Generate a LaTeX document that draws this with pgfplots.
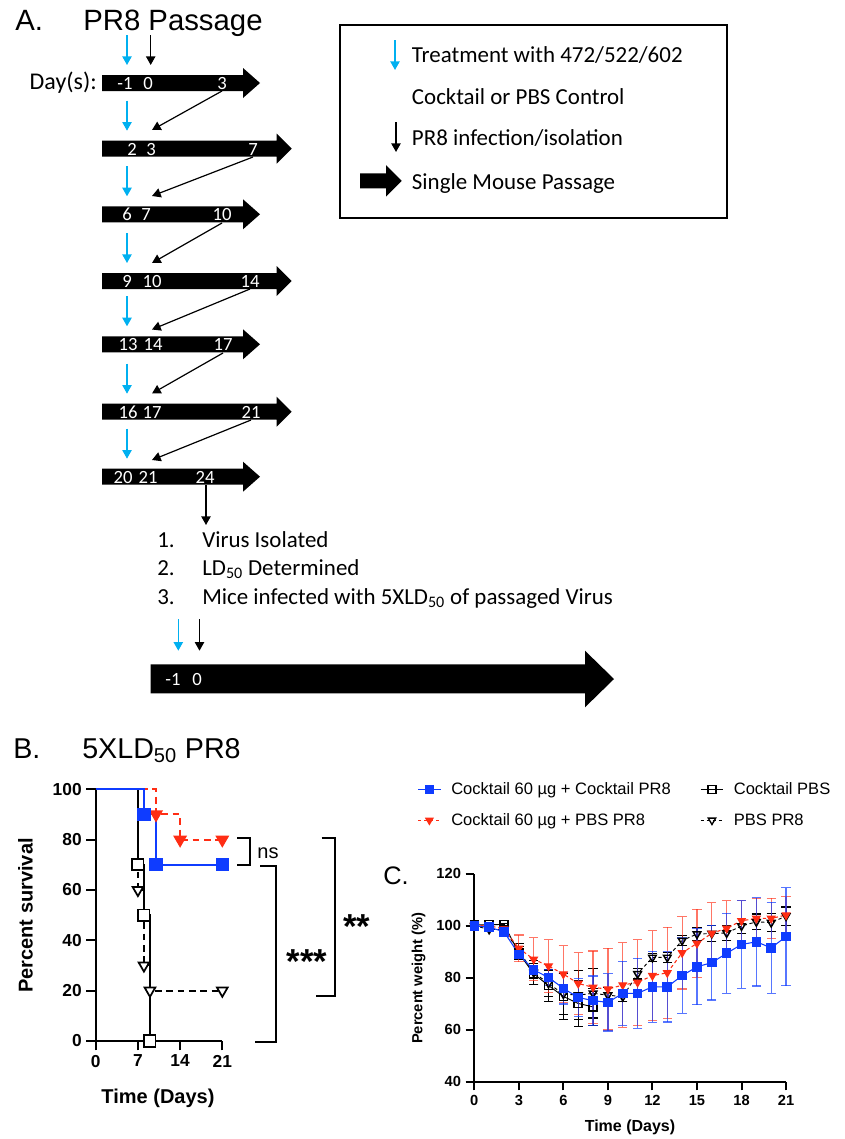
\documentclass[border=0pt]{standalone}
\usepackage{pgfplots}
\pgfplotsset{compat=1.18}
\usepackage{pgfplotstable}
\usepackage{fontspec}
\setmainfont{Liberation Sans}
\newfontfamily\calfont{Carlito}
\usetikzlibrary{arrows.meta}
\definecolor{gpblue}{RGB}{15,60,255}
\definecolor{gpred}{RGB}{255,45,20}
\definecolor{office}{RGB}{0,176,240}
\newcommand{\fs}[1]{\fontsize{#1}{#1}\selectfont}

\pgfplotstableread{
x y e
0 100 0
1 99.4 0.8
2 97.7 1.2
3 89.0 1.5
4 83.0 1.8
5 80.1 3.0
6 75.9 6.0
7 72.4 7.4
8 71.2 9.5
9 70.5 11.0
10 74.0 12.3
11 74.0 13.5
12 76.5 13.7
13 76.5 13.5
14 80.8 14.5
15 84.2 14.6
16 85.8 14.4
17 89.4 15.4
18 92.8 16.8
19 93.8 17.0
20 91.5 17.5
21 95.8 18.9
}\tblue

\pgfplotstableread{
x y e
0 100 0
1 100 0.5
2 98.7 1.0
3 91.3 5.1
4 87.1 8.3
5 84.5 10.2
6 81.4 10.9
7 77.8 11.8
8 76.3 14.0
9 75.6 15.7
10 77.2 16.3
11 78.2 16.5
12 80.8 17.3
13 81.9 17.5
14 89.6 13.9
15 93.2 13.1
16 97.1 11.7
17 99.0 10.6
18 101.9 7.8
19 102.8 7.7
20 102.8 7.7
21 104.1 7.1
}\tred

\pgfplotstableread{
x y e
0 100.3 0
1 100.4 0.5
2 100.5 0.5
3 89.5 2.5
4 81.5 4.0
5 77.0 6.0
6 72.8 9.0
7 70.1 9.0
8 68.8 7.0
}\tsq

\pgfplotstableread{
x y e
0 100 0
1 98.6 1.0
2 98.5 1.0
3 90.3 3.0
4 82.0 4.5
5 77.8 5.0
6 73.7 8.0
7 73.3 9.5
8 74.0 9.5
9 73.3 3.0
10 72.7 2.0
11 81.5 2.0
12 87.8 1.5
13 87.8 2.0
14 94.3 2.0
15 96.8 2.5
16 97.0 3.0
17 97.2 3.0
18 99.9 3.0
19 101.5 3.0
20 101.2 3.5
21 103.7 3.5
}\ttri

\begin{document}
\begin{tikzpicture}[x=0.75pt,y=-0.75pt,
  tip/.style={-{Triangle[length=6.5pt,width=7pt]}}]
\path[use as bounding box] (0,0) rectangle (844,1139);

% ---------------- Panel A -----------------
\node[anchor=base west, inner sep=0] at (15,30) {\fs{22}A.};
\node[anchor=base west, inner sep=0] at (83,30) {\fs{22}PR8 Passage};
\node[anchor=base east, inner sep=0] at (97,89.5) {\calfont\fs{18}Day(s):};

\foreach \yc/\xb/\xt in {83/243/260, 148.7/276.7/291.7, 214.3/243/260, 281/276.7/291.7, 344.3/243/260, 411.7/276.7/291.7, 476.7/243/260}{
  \fill (102,\yc-8) -- (\xb,\yc-8) -- (\xb,\yc-15) -- (\xt,\yc) -- (\xb,\yc+15) -- (\xb,\yc+8) -- (102,\yc+8) -- cycle;
  \draw[office, line width=1.1pt, tip] (127,\yc-48) -- (127,\yc-18);
}
\foreach \yc/\t/\xx in {83/-1/125, 83/0/148, 83/3/222,
  148.7/2/132, 148.7/3/151, 148.7/7/253,
  214.3/6/127, 214.3/7/146, 214.3/10/222,
  281/9/127, 281/10/152, 281/14/250,
  344.3/13/128, 344.3/14/153, 344.3/17/223,
  411.7/16/128, 411.7/17/152, 411.7/21/251,
  476.7/20/123, 476.7/21/148, 476.7/24/205}{
  \node[text=white, anchor=base, inner sep=0] at (\xx,\yc+6.5) {\calfont\fs{14}\t};
}
\draw[line width=1.1pt, tip] (150.7,35) -- (150.7,65);
\draw[line width=0.9pt, tip] (222,91) -- (152,130);
\draw[line width=0.9pt, tip] (253,157) -- (152,196);
\draw[line width=0.9pt, tip] (222,223) -- (152,263);
\draw[line width=0.9pt, tip] (250,289) -- (152,329.5);
\draw[line width=0.9pt, tip] (223,353) -- (152,393.5);
\draw[line width=0.9pt, tip] (251,420) -- (152,460);
\draw[line width=1.1pt, tip] (206,485) -- (206,525);

% key box
\draw[line width=0.9pt] (340,25) rectangle (727,218);
\draw[office, line width=1.1pt, tip] (395,40) -- (395,70);
\draw[line width=1.1pt, tip] (396,122) -- (396,152);
\fill (360,173.3) -- (386,173.3) -- (386,165) -- (401.7,180.8) -- (386,196.6) -- (386,188.3) -- (360,188.3) -- cycle;
\node[anchor=base west, inner sep=0] at (411.7,62.5) {\calfont\fs{17.2}Treatment with 472/522/602};
\node[anchor=base west, inner sep=0] at (411.7,104.8) {\calfont\fs{17.2}Cocktail or PBS Control};
\node[anchor=base west, inner sep=0] at (411.7,145.8) {\calfont\fs{17.2}PR8 infection/isolation};
\node[anchor=base west, inner sep=0] at (411.7,189.2) {\calfont\fs{17.2}Single Mouse Passage};

% list
\node[anchor=base west, inner sep=0] at (157,547.5) {\calfont\fs{17.2}1.};
\node[anchor=base west, inner sep=0] at (202,547.5) {\calfont\fs{17.2}Virus Isolated};
\node[anchor=base west, inner sep=0] at (157,575.5) {\calfont\fs{17.2}2.};
\node[anchor=base west, inner sep=0] at (202,575.5) {\calfont\fs{17.2}LD\textsubscript{50} Determined};
\node[anchor=base west, inner sep=0] at (157,604.2) {\calfont\fs{17.2}3.};
\node[anchor=base west, inner sep=0] at (202,604.2) {\calfont\fs{17.2}Mice infected with 5XLD\textsubscript{50} of passaged Virus};

% bottom arrow
\draw[office, line width=1.1pt, tip] (178.3,619.3) -- (178.3,650.7);
\draw[line width=1.1pt, tip] (199.5,619.3) -- (199.5,650.7);
\fill (150.7,664.3) -- (585,664.3) -- (585,650.7) -- (614,679) -- (585,707.3) -- (585,693.3) -- (150.7,693.3) -- cycle;
\node[text=white, anchor=base, inner sep=0] at (173,685.5) {\calfont\fs{14}-1};
\node[text=white, anchor=base, inner sep=0] at (197,685.5) {\calfont\fs{14}0};

% ---------------- Panel B -----------------
\node[anchor=base west, inner sep=0] at (13,758) {\fs{21.5}B.};
\node[anchor=base west, inner sep=0] at (82,758) {\fs{21.5}5XLD\textsubscript{50} PR8};

\begin{axis}[
  at={(71.78pt,-780.75pt)}, anchor=south west,
  scale only axis, width=94.95pt, height=188.8pt,
  xmin=0, xmax=21, ymin=0, ymax=100,
  axis lines=left,
  axis line style={line width=1.6pt, -},
  xtick={0,7,14,21}, ytick={0,20,40,60,80,100},
  tick align=outside, major tick length=7pt,
  every tick/.style={black, line width=1.6pt},
  tick label style={font=\fs{13}\bfseries},
  /pgf/number format/assume math mode=true,
  clip=false,
]
\addplot[black, line width=1.5pt, const plot, mark=square*, mark size=4.2pt,
  mark indices={2,3,4}, mark options={solid, line width=1.4pt, fill=white, draw=black}]
  coordinates {(0,100)(7,70)(8,50)(9,0)};
\addplot[black, line width=1.5pt, dash pattern=on 5pt off 3.5pt, const plot, mark=triangle*, mark size=4.6pt,
  mark indices={2,3,4,5}, mark options={solid, rotate=180, line width=1.3pt, fill=white, draw=black}]
  coordinates {(0,100)(7,60)(8,30)(9,20)(21,20)};
\addplot[gpred, line width=1.5pt, dash pattern=on 5pt off 3.5pt, const plot, mark=triangle*, mark size=4.6pt,
  mark indices={2,3,4}, mark options={solid, rotate=180, fill=gpred}]
  coordinates {(0,100)(10,90)(14,80)(21,80)};
\addplot[gpblue, line width=1.5pt, const plot, mark=square*, mark size=4.2pt,
  mark indices={2,3,4}, mark options={solid, fill=gpblue}]
  coordinates {(0,100)(8,90)(10,70)(21,70)};
\end{axis}

\node[rotate=90, anchor=base, inner sep=0] at (32.6,915.5) {\fs{15}\bfseries Percent survival};
\node[anchor=base, inner sep=0] at (158,1103.6) {\fs{15}\bfseries Time (Days)};

% brackets
\draw[line width=1.6pt] (237,838.3) -- (250,838.3) -- (250,865) -- (237,865);
\node[anchor=base, inner sep=0] at (268,858) {\fs{15}ns};
\draw[line width=1.6pt] (260,866) -- (276,866) -- (276,1041.7) -- (255,1041.7);
\node[anchor=base, inner sep=0] at (307,973) {\fs{26}\bfseries ***};
\draw[line width=1.6pt] (321.7,838.3) -- (335,838.3) -- (335,995.7) -- (316,995.7);
\node[anchor=base, inner sep=0] at (357,938) {\fs{26}\bfseries **};

% ---------------- Panel C -----------------
\node[anchor=base west, inner sep=0] at (383,884) {\fs{19}C.};

\begin{axis}[
  at={(355.73pt,-811.28pt)}, anchor=south west,
  scale only axis, width=233.8pt, height=156pt,
  xmin=0, xmax=21, ymin=40, ymax=120,
  axis lines=left,
  axis line style={line width=1.5pt, -},
  xtick={0,3,...,21}, ytick={40,60,...,120},
  tick align=outside, major tick length=6.5pt,
  every tick/.style={black, line width=1.5pt},
  tick label style={font=\fs{11}\bfseries},
  /pgf/number format/assume math mode=true,
  clip=false,
  legend columns=2,
  legend cell align=left,
  legend style={draw=none, fill=none, at={(-0.196,1.465)}, anchor=north west,
    font=\fs{12.4}, row sep=8.5pt,
    /tikz/every odd column/.append style={column sep=5.5pt},
    /tikz/every even column/.append style={column sep=20pt}},
]
\addlegendimage{gpblue, line width=0.8pt, mark=square*, mark size=3pt, mark options={solid, fill=gpblue}}
\addlegendentry{Cocktail 60 µg + Cocktail PR8}
\addlegendimage{black, line width=0.7pt, mark=square, mark size=3pt, mark options={solid, line width=1pt}}
\addlegendentry{Cocktail PBS}
\addlegendimage{gpred, line width=0.8pt, dash pattern=on 2.5pt off 2pt, mark=triangle*, mark size=3.2pt, mark options={solid, rotate=180, fill=gpred}}
\addlegendentry{Cocktail 60 µg + PBS PR8}
\addlegendimage{black, line width=0.7pt, dash pattern=on 2.5pt off 2pt, mark=triangle, mark size=3.2pt, mark options={solid, rotate=180, line width=1pt}}
\addlegendentry{PBS PR8}

\addplot[forget plot, black, line width=0.7pt, mark=square, mark size=3pt,
  mark options={solid, line width=1.1pt},
  error bars/.cd, y dir=both, y explicit,
  error bar style={line width=0.8pt, black},
  error mark options={rotate=90, mark size=3.5pt, line width=0.8pt, black}]
  table[x=x, y=y, y error=e] {\tsq};
\addplot[forget plot, black, line width=0.7pt, dash pattern=on 2.5pt off 2pt, mark=triangle, mark size=3.3pt,
  mark options={solid, rotate=180, line width=1.1pt},
  error bars/.cd, y dir=both, y explicit,
  error bar style={solid, line width=0.8pt, black},
  error mark options={rotate=90, mark size=3.5pt, line width=0.8pt, black}]
  table[x=x, y=y, y error=e] {\ttri};
\addplot[forget plot, gpred, line width=0.8pt, dash pattern=on 2.5pt off 2pt, mark=triangle*, mark size=3.3pt,
  mark options={solid, rotate=180, fill=gpred},
  error bars/.cd, y dir=both, y explicit,
  error bar style={solid, line width=0.9pt, gpred, opacity=0.65},
  error mark options={rotate=90, mark size=3.5pt, line width=0.9pt, gpred, opacity=0.65}]
  table[x=x, y=y, y error=e] {\tred};
\addplot[forget plot, gpblue, line width=0.8pt, mark=square*, mark size=3.2pt,
  mark options={solid, fill=gpblue},
  error bars/.cd, y dir=both, y explicit,
  error bar style={solid, line width=0.9pt, gpblue, opacity=0.7},
  error mark options={rotate=90, mark size=3.5pt, line width=0.9pt, gpblue, opacity=0.7}]
  table[x=x, y=y, y error=e] {\tblue};
\end{axis}

\node[rotate=90, anchor=base, inner sep=0] at (422.3,978.3) {\fs{11}\bfseries Percent weight (\%)};
\node[anchor=base, inner sep=0] at (630,1131.7) {\fs{12}\bfseries Time (Days)};
\end{tikzpicture}
\end{document}
